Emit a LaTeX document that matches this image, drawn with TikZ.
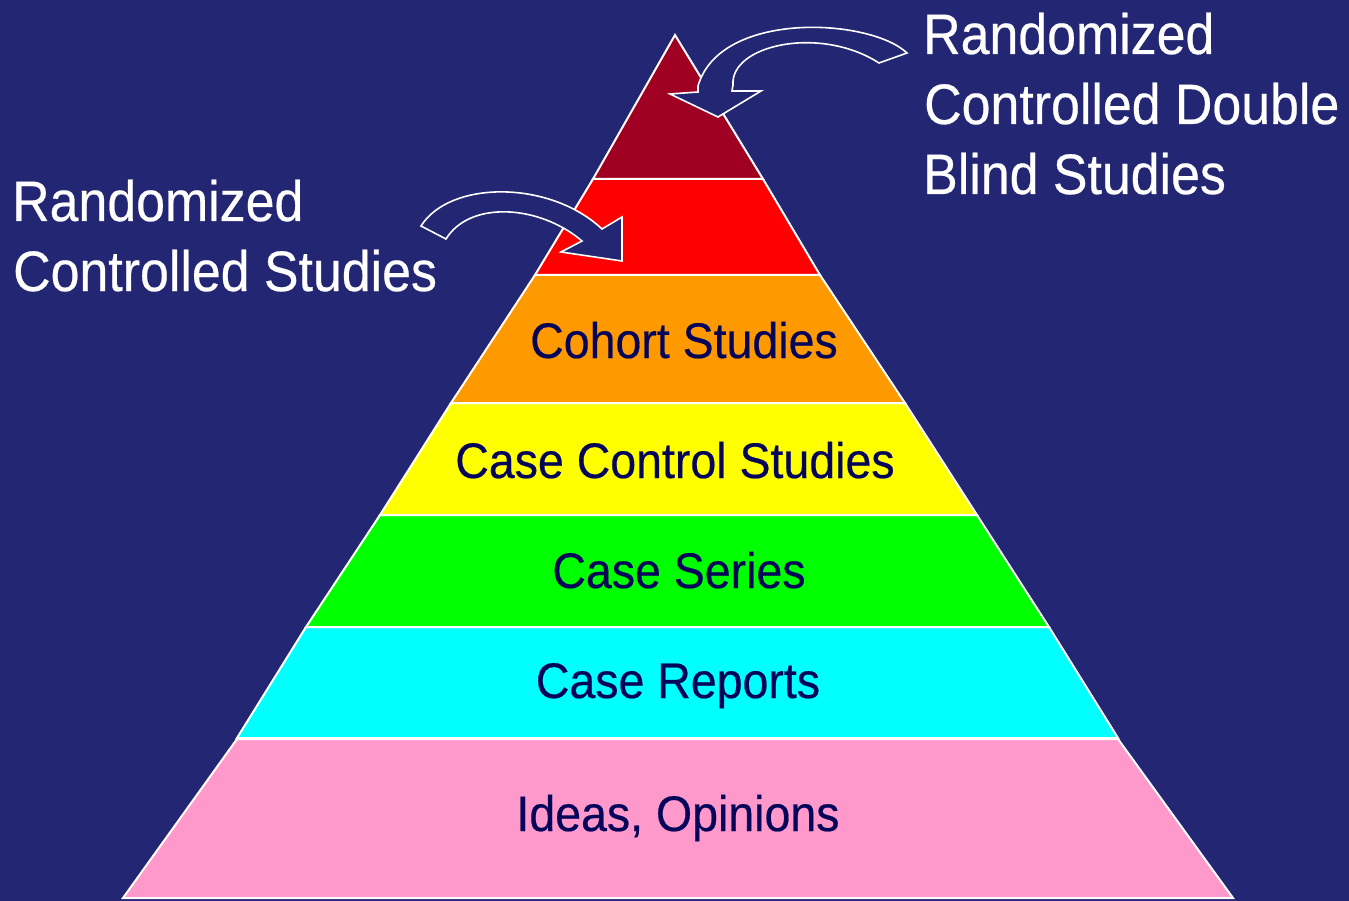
\documentclass[tikz,border=0pt]{standalone}
\usepackage{fontspec}
\setmainfont{Liberation Sans}
\newfontfamily\sidefont[FakeStretch=0.91,FakeBold=0.4]{Liberation Sans}
\newfontfamily\bandfont[FakeStretch=0.93,FakeBold=0.4]{Liberation Sans}
\definecolor{bgnavy}{RGB}{35,38,114}
\definecolor{darkred}{RGB}{160,0,34}
\definecolor{bandred}{RGB}{255,0,0}
\definecolor{bandorange}{RGB}{255,153,0}
\definecolor{bandyellow}{RGB}{255,255,0}
\definecolor{bandgreen}{RGB}{0,255,0}
\definecolor{bandcyan}{RGB}{0,255,255}
\definecolor{bandpink}{RGB}{255,153,204}
\definecolor{labelnavy}{RGB}{5,5,90}
\tikzset{
  band/.style={draw=white, line width=2pt, line join=miter},
  blockarrow/.style={draw=white, fill=bgnavy, line width=1.6pt, line join=miter},
  sidetext/.style={anchor=base west, inner sep=0pt, text=white, font=\sidefont\fontsize{57}{70}\selectfont},
  bandtext/.style={anchor=base, inner sep=0pt, text=labelnavy, font=\bandfont\fontsize{50}{60}\selectfont}
}
\begin{document}
\begin{tikzpicture}[x=1pt,y=-1pt]
\fill[bgnavy] (0,0) rectangle (1349,901);
\useasboundingbox (0,0) rectangle (1349,901);
% pyramid bands
\filldraw[band, fill=bandpink]   (237,739) -- (1118,739) -- (1233,898) -- (123,898) -- cycle;
\filldraw[band, fill=bandcyan]   (306,627) -- (1049,627) -- (1118,738) -- (237,738) -- cycle;
\filldraw[band, fill=bandgreen]  (380,515) -- (977,515) -- (1049,627) -- (306,627) -- cycle;
\filldraw[band, fill=bandyellow] (451,403) -- (905,403) -- (977,515) -- (380,515) -- cycle;
\filldraw[band, fill=bandorange] (535,275) -- (820,275) -- (905,403) -- (451,403) -- cycle;
\filldraw[band, fill=bandred]    (593,179) -- (763,179) -- (820,275) -- (535,275) -- cycle;
\filldraw[band, fill=darkred]    (675,35) -- (763,179) -- (593,179) -- cycle;
% band labels
\node[bandtext] (cohort) at (684,358) {Cohort Studies};
\node[bandtext] (casecontrol) at (675,478) {Case Control Studies};
\node[bandtext] (caseseries) at (679,588) {Case Series};
\node[bandtext] (casereports) at (678,698) {Case Reports};
\node[bandtext] (ideas) at (678,831) {Ideas, Opinions};
% curved block arrows
\filldraw[blockarrow] (907,53) .. controls (870,18) and (720,10) .. (698,86)
  -- (698,92) -- (670,94) -- (718,117) -- (761,91) -- (732,91) -- (733,85)
  .. controls (730,45) and (820,25) .. (879,63) -- cycle;
\filldraw[blockarrow] (421,226) .. controls (450,180) and (550,180) .. (602,229)
  -- (622,217) -- (622,261) -- (561,252) -- (582,241)
  .. controls (540,205) and (470,200) .. (446,239) -- cycle;
% side labels
\node[sidetext] (rcs1) at (12,221) {Randomized};
\node[sidetext] (rcs2) at (13,291) {Controlled Studies};
\node[sidetext] (rdb1) at (923,54) {Randomized};
\node[sidetext] (rdb2) at (924,124) {Controlled Double};
\node[sidetext] (rdb3) at (923,194) {Blind Studies};
\end{tikzpicture}
\end{document}
